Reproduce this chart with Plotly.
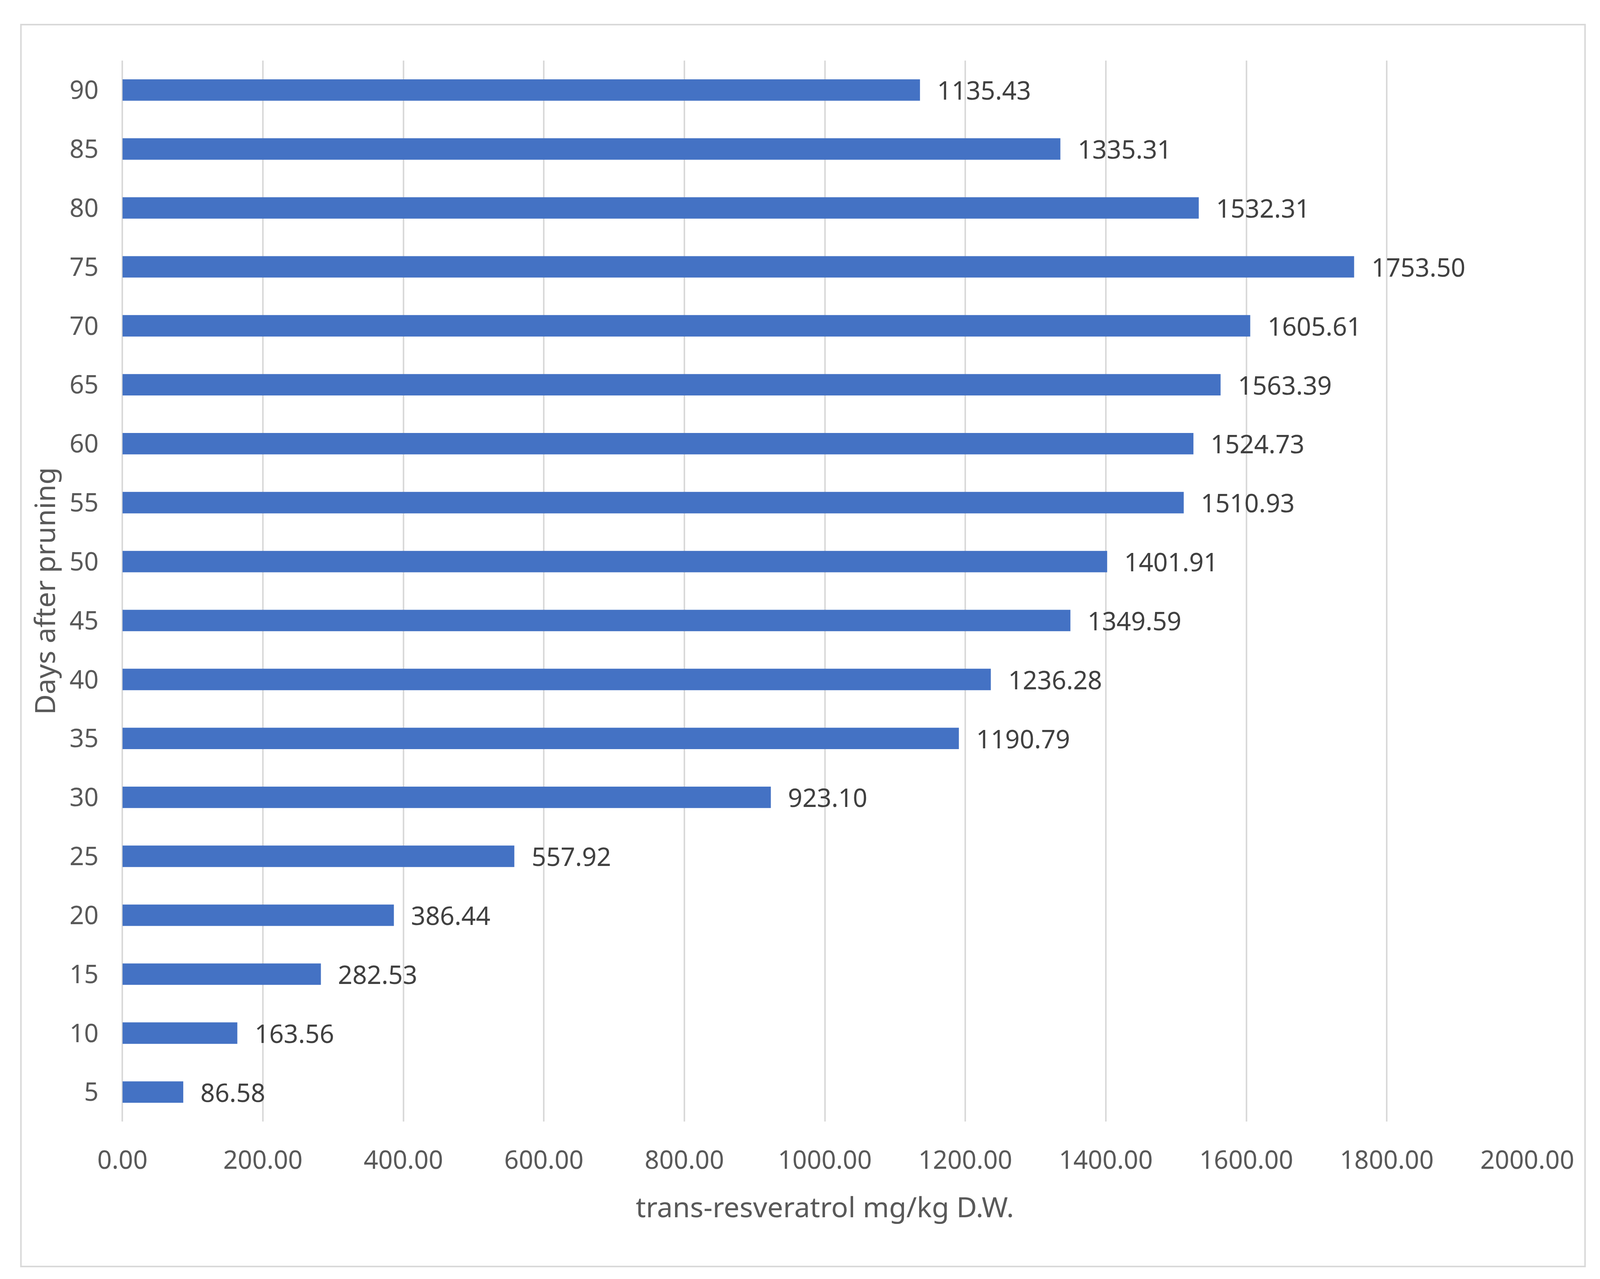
import plotly.graph_objects as go

days = [5, 10, 15, 20, 25, 30, 35, 40, 45, 50, 55, 60, 65, 70, 75, 80, 85, 90]
resveratrol = [86.58, 163.56, 282.53, 386.44, 557.92, 923.10, 1190.79, 1236.28, 1349.59, 1401.91,
               1510.93, 1524.73, 1563.39, 1605.61, 1753.50, 1532.31, 1335.31, 1135.43]
x_ticks = [0, 200, 400, 600, 800, 1000, 1200, 1400, 1600, 1800, 2000]
x_title = "trans-resveratrol mg/kg D.W."
y_title = "Days after pruning"

# reference geometry (pixels of the 5927x3273 reference), used as fractions of the page
W, H = 5927, 3273
L, R, T, B = 442, 5646, 147, 2862
FONT = "Noto Sans"

fig = go.Figure()
fig.add_trace(go.Bar(
    x=resveratrol, y=days, orientation="h",
    marker=dict(color="#4472C4", line=dict(width=0)),
    hoverinfo="x+y",
))

for v, d in zip(resveratrol, days):
    fig.add_annotation(x=v, y=d, xref="x", yref="y", text=f"{v:.2f}", showarrow=False,
                       xanchor="left", yanchor="middle", xshift=42,
                       font=dict(family=FONT, size=65, color="#404040"))

# outer chart border
fig.add_shape(type="rect", xref="paper", yref="paper",
              x0=66 / W, x1=5860 / W, y0=1 - 3233 / H, y1=1 - 55 / H,
              line=dict(color="#D9D9D9", width=4), fillcolor="rgba(0,0,0,0)", layer="below")

fig.update_layout(
    autosize=True,
    margin=dict(l=0, r=0, t=0, b=0, pad=0, autoexpand=False),
    paper_bgcolor="white", plot_bgcolor="white",
    bargap=0.636, showlegend=False,
    font=dict(family=FONT, size=65, color="#595959"),
)
fig.update_xaxes(
    domain=[L / W, R / W],
    range=[0, 2000], tickvals=x_ticks, ticktext=[f"{t:.2f}" for t in x_ticks],
    showgrid=True, gridcolor="#D9D9D9", gridwidth=4,
    zeroline=True, zerolinecolor="#D9D9D9", zerolinewidth=4,
    showline=False, ticks="", ticklabelstandoff=55,
    tickfont=dict(family=FONT, size=65, color="#595959"),
    title=dict(text=x_title, font=dict(family=FONT, size=72, color="#595959"), standoff=55),
    automargin=False,
)
fig.update_yaxes(
    domain=[1 - B / H, 1 - T / H],
    range=[2.5, 92.5], tickvals=days, ticktext=[str(d) for d in days],
    showgrid=False, zeroline=False, showline=False, ticks="", ticklabelstandoff=60,
    tickfont=dict(family=FONT, size=65, color="#595959"),
    title=dict(text=y_title, font=dict(family=FONT, size=72, color="#595959"), standoff=12),
    automargin=False,
)

fig.write_html("out.html", default_width="100vw", default_height="100vh",
               config={"responsive": True})
